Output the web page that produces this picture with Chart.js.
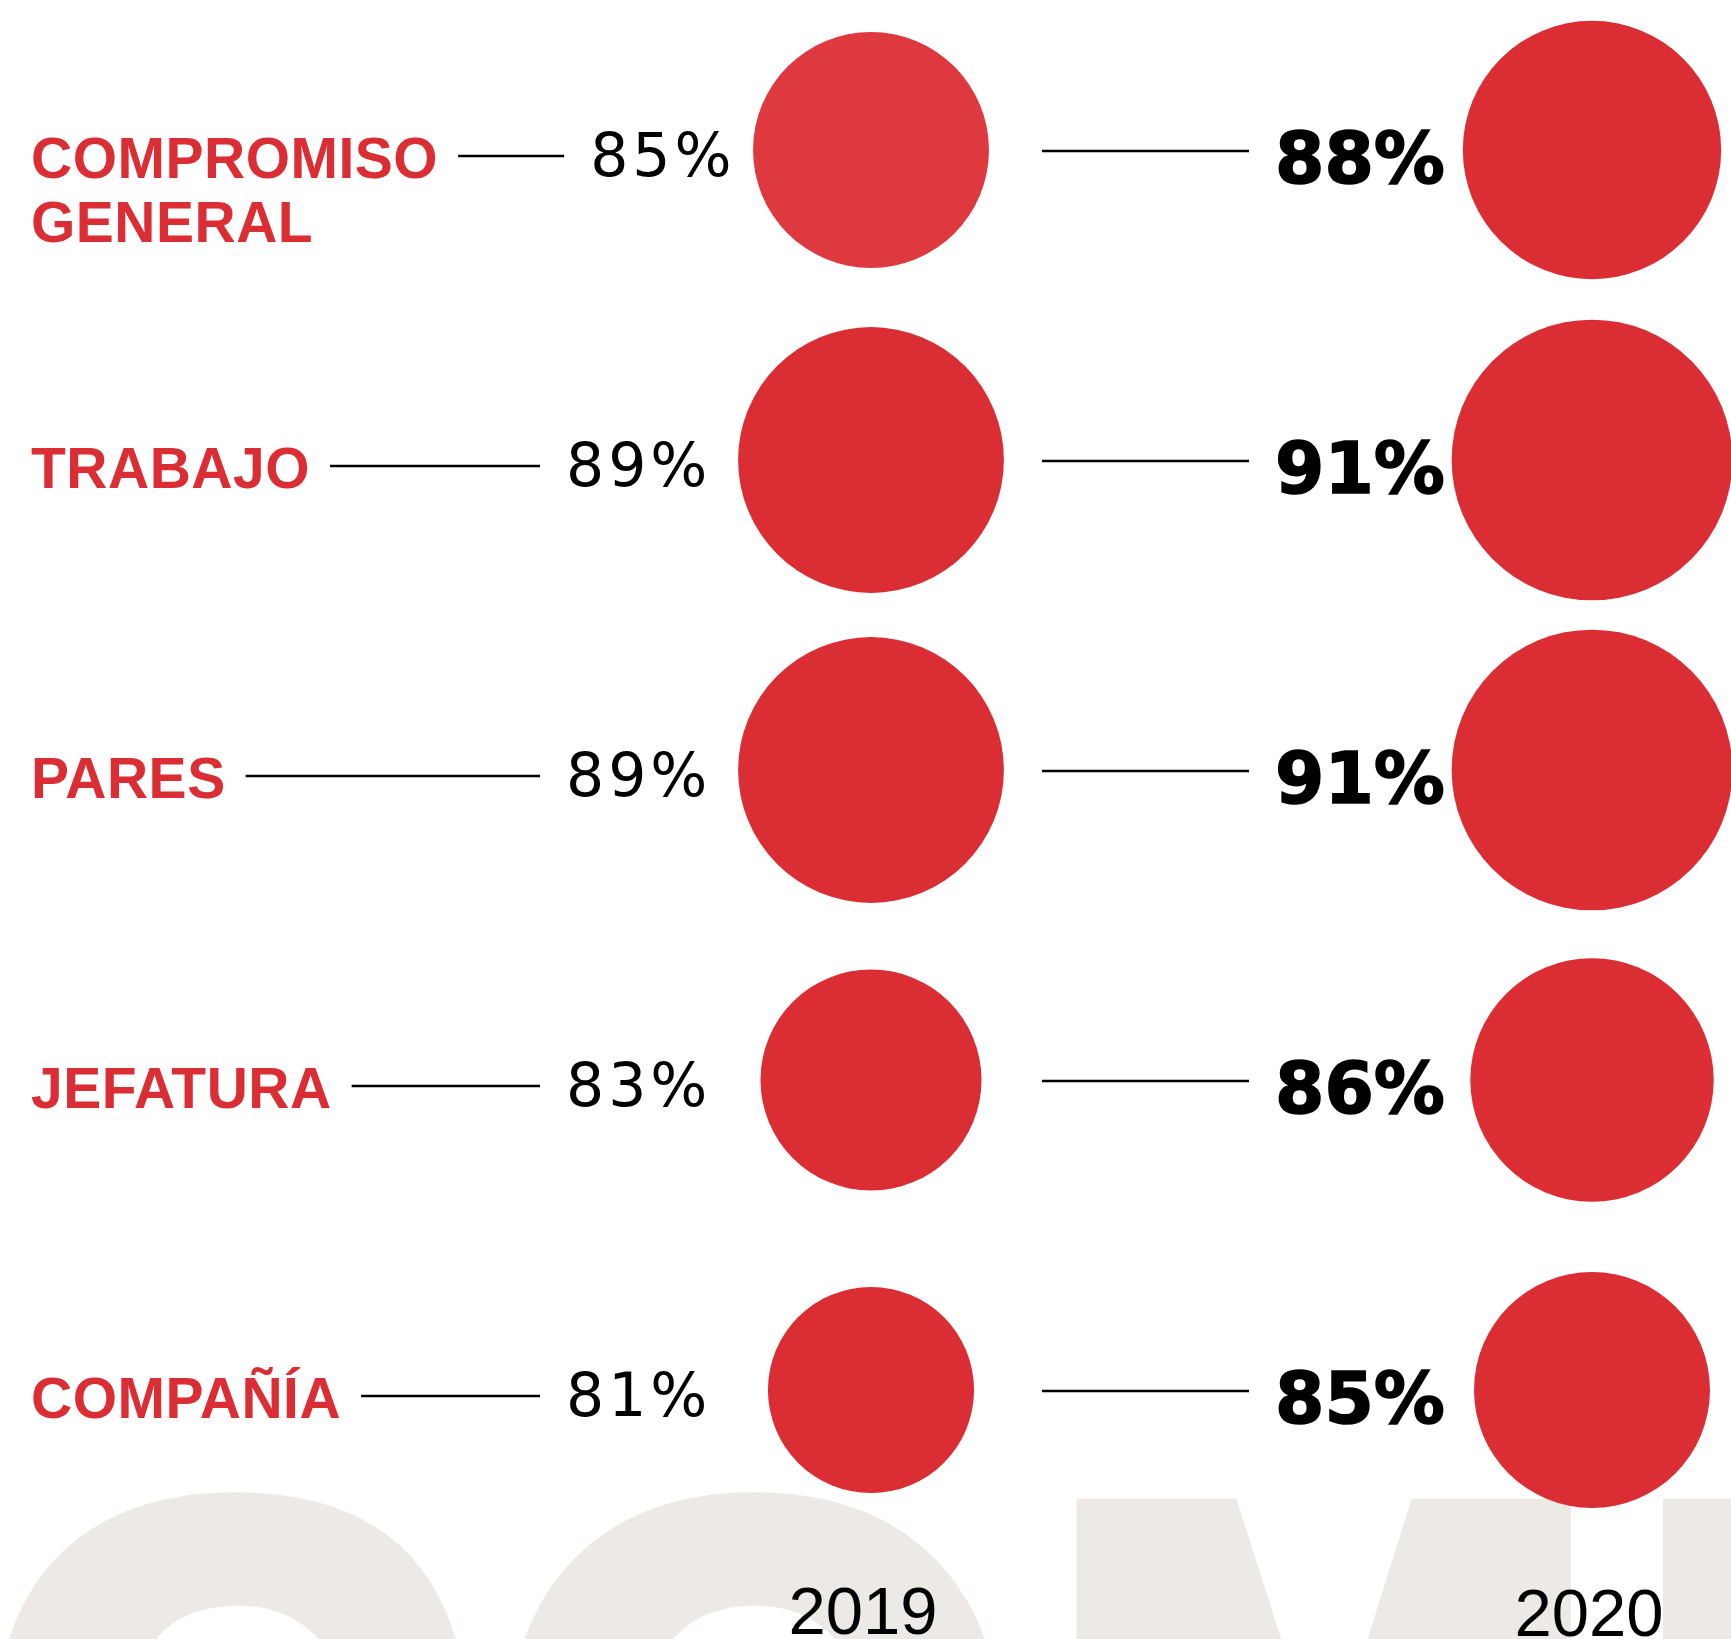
<!DOCTYPE html>
<html>
<head>
<meta charset="utf-8">
<script src="https://cdn.jsdelivr.net/npm/chart.js@4"></script>
<style>
  html, body { margin: 0; padding: 0; background: #fff; }
  #wrap { width: 1731px; height: 1639px; position: relative; }
</style>
</head>
<body>
<div id="wrap"><canvas id="grafico" width="1731" height="1639"></canvas></div>
<script>
// --- datos ---
const categorias = [['COMPROMISO', 'GENERAL'], 'TRABAJO', 'PARES', 'JEFATURA', 'COMPAÑÍA'];
const anios = ['2019', '2020'];
const valores2019 = [85, 89, 89, 83, 81];
const valores2020 = [88, 91, 91, 86, 85];
const textoFondo = 'COMPROMISO';

const rojo = '#DA2E34';
const rojoClaro = '#DD393F';
const grisFondo = '#EDEAE6';

// tamaño del circulo segun el porcentaje
function radio(v) {
  return 124.7 + 3.73 * (v - 86.8);
}

const textos = {
  id: 'textos',
  beforeDatasetsDraw(chart) {
    // palabra gigante de fondo
    const ctx = chart.ctx;
    ctx.save();
    ctx.fillStyle = grisFondo;
    ctx.strokeStyle = grisFondo;
    ctx.lineWidth = 40;
    ctx.lineJoin = 'miter';
    ctx.miterLimit = 4;
    ctx.font = 'bold 650px "Liberation Sans"';
    ctx.letterSpacing = '45px';
    ctx.textBaseline = 'alphabetic';
    ctx.fillText(textoFondo, -12, 1966);
    ctx.strokeText(textoFondo, -12, 1966);
    ctx.restore();
  },
  afterDatasetsDraw(chart) {
    const ctx = chart.ctx;
    const x = chart.scales.x, y = chart.scales.y;
    const x19 = x.getPixelForValue(0), x20 = x.getPixelForValue(1);
    ctx.save();
    ctx.textBaseline = 'alphabetic';
    ctx.textAlign = 'left';
    categorias.forEach((cat, i) => {
      const yc = y.getPixelForValue(i);
      const lineas = [].concat(cat);

      // etiqueta
      ctx.fillStyle = rojo;
      ctx.font = 'bold 57px "Liberation Sans"';
      ctx.letterSpacing = '0.5px';
      lineas.forEach((t, k) => ctx.fillText(t, 31, yc + 28 + k * 64));
      const fin = 31 + ctx.measureText(lineas[0]).width;

      // valor 2019: se corre si la etiqueta es larga
      const xv = Math.max(x19 - 305, fin + 20 + 106 + 26);

      // conectores
      ctx.strokeStyle = '#000';
      ctx.lineWidth = 2.5;
      ctx.beginPath();
      ctx.moveTo(fin + 20, yc + 6);
      ctx.lineTo(xv - 26, yc + 6);
      ctx.moveTo(x19 + 171, yc + 1);
      ctx.lineTo(x19 + 378, yc + 1);
      ctx.stroke();

      // porcentajes
      ctx.fillStyle = '#000';
      ctx.font = '60px "DejaVu Sans"';
      ctx.letterSpacing = '4px';
      ctx.fillText(valores2019[i] + '%', xv, yc + 26);
      ctx.font = 'bold 71px "DejaVu Sans"';
      ctx.letterSpacing = '0px';
      ctx.lineWidth = 1.5;
      ctx.fillText(valores2020[i] + '%', x20 - 317, yc + 33);
      ctx.strokeText(valores2020[i] + '%', x20 - 317, yc + 33);
    });

    // años
    ctx.fillStyle = '#000';
    ctx.font = '67px "Liberation Sans"';
    ctx.letterSpacing = '0px';
    ctx.textAlign = 'center';
    ctx.fillText(anios[0], x19 - 8, 1634);
    ctx.fillText(anios[1], x20 - 3, 1636);
    ctx.restore();
  }
};

new Chart(document.getElementById('grafico'), {
  type: 'bubble',
  data: {
    datasets: [
      {
        label: anios[0],
        data: valores2019.map((v, i) => ({ x: 0, y: i, r: radio(v) })),
        backgroundColor: valores2019.map((v, i) => i === 0 ? rojoClaro : rojo),
        borderWidth: 0
      },
      {
        label: anios[1],
        data: valores2020.map((v, i) => ({ x: 1, y: i, r: radio(v) })),
        backgroundColor: rojo,
        borderWidth: 0
      }
    ]
  },
  options: {
    responsive: false,
    animation: false,
    events: [],
    layout: { padding: 0, autoPadding: false },
    plugins: {
      legend: { display: false },
      tooltip: { enabled: false }
    },
    scales: {
      x: { type: 'linear', display: false, min: -871 / 721, max: (1731 - 871) / 721 },
      y: { type: 'linear', display: false, reverse: true, min: -150 / 310, max: (1639 - 150) / 310 }
    }
  },
  plugins: [textos]
});
</script>
</body>
</html>
